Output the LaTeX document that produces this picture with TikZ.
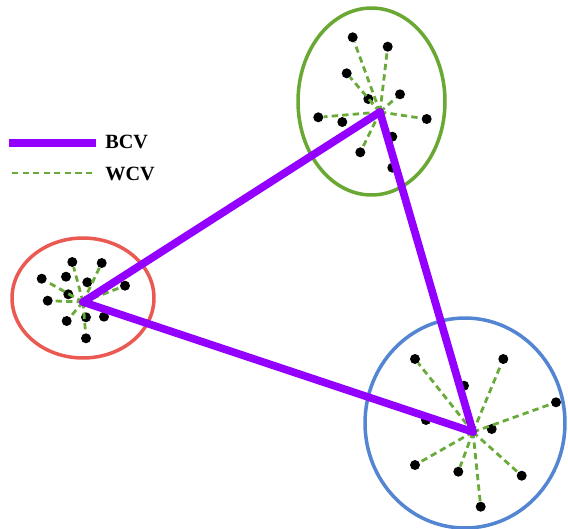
\documentclass[tikz,border=0pt]{standalone}
\usepackage{fontspec}
\setmainfont{Liberation Serif}
\usetikzlibrary{shapes.geometric}
\definecolor{bcvpurple}{HTML}{9400FF}
\definecolor{wcvgreen}{HTML}{6AAA3A}
\definecolor{ringgreen}{HTML}{69A832}
\definecolor{ringred}{HTML}{EA5A52}
\definecolor{ringblue}{HTML}{5485D2}
\tikzset{
  x=0.02cm, y=-0.02cm,
  pt/.style={circle,fill=black,inner sep=0pt,minimum size=0.2cm},
  ring/.style={ellipse,draw,line width=2pt,inner sep=0pt},
  bcv/.style={draw=bcvpurple,line width=4.4pt,line cap=round},
  wcv/.style={draw=wcvgreen,line width=1.6pt,dash pattern=on 3.6pt off 2.4pt},
  lbl/.style={anchor=west,inner sep=0pt,font=\fontsize{11.5}{13}\selectfont\bfseries}
}

\begin{document}
\begin{tikzpicture}
  \useasboundingbox (0,0) rectangle (568,528);

  % clusters
  \node[ring,draw=ringgreen,minimum width=2.94cm,minimum height=3.74cm] (G) at (371.5,101.5) {};
  \node[ring,draw=ringred,minimum width=2.84cm,minimum height=2.40cm] (R) at (83,298) {};
  \node[ring,draw=ringblue,minimum width=4.0cm,minimum height=4.2cm] (B) at (465,423) {};

  % centroids
  \coordinate (gc) at (380,112);
  \coordinate (rc) at (83,302);
  \coordinate (bc) at (473,432);

  % green points
  \foreach \n/\p in {1/{352.7,37.3},2/{387.7,46.7},3/{346.7,73.3},4/{368.3,99},5/{400,94.3},
      6/{318.3,117.3},7/{342.3,122},8/{426.7,119},9/{392.3,136.7},10/{360.3,152.3},11/{392.3,167.7}}
    \node[pt] (g\n) at (\p) {};
  % red points
  \foreach \n/\p in {1/{72.3,262},2/{101.7,263},3/{41.7,278.7},4/{66,276.7},5/{87.3,282.3},6/{125,285.7},
      7/{68.3,294.3},8/{47.7,300.7},9/{66.7,321},10/{86,317.3},11/{104,316.7},12/{86,338.3}}
    \node[pt] (r\n) at (\p) {};
  % blue points
  \foreach \n/\p in {1/{415,359},2/{503.3,359},3/{464,385.7},4/{556,402.3},5/{426,420},
      6/{491.7,429},7/{415,465},8/{458.3,471.7},9/{521.7,475.7},10/{480.7,506.7}}
    \node[pt] (b\n) at (\p) {};

  % within-cluster links
  \foreach \n in {1,2,3,4,5,6,8,10} \draw[wcv] (gc) -- (g\n);
  \foreach \n in {1,2,3,6,8,9,12} \draw[wcv] (rc) -- (r\n);
  \foreach \n in {1,2,4,7,8,9,10} \draw[wcv] (bc) -- (b\n);

  % between-cluster links
  \draw[bcv] (rc) -- (gc);
  \draw[bcv] (gc) -- (bc);
  \draw[bcv] (rc) -- (bc);

  % legend
  \coordinate (k1a) at (9,143);
  \coordinate (k1b) at (96,143);
  \coordinate (k2a) at (12,173);
  \coordinate (k2b) at (93,173);
  \draw[bcv,line cap=butt] (k1a) -- (k1b);
  \draw[wcv] (k2a) -- (k2b);
  \node[lbl] (kbcv) at (105,142) {BCV};
  \node[lbl] (kwcv) at (105,174) {WCV};
\end{tikzpicture}
\end{document}
